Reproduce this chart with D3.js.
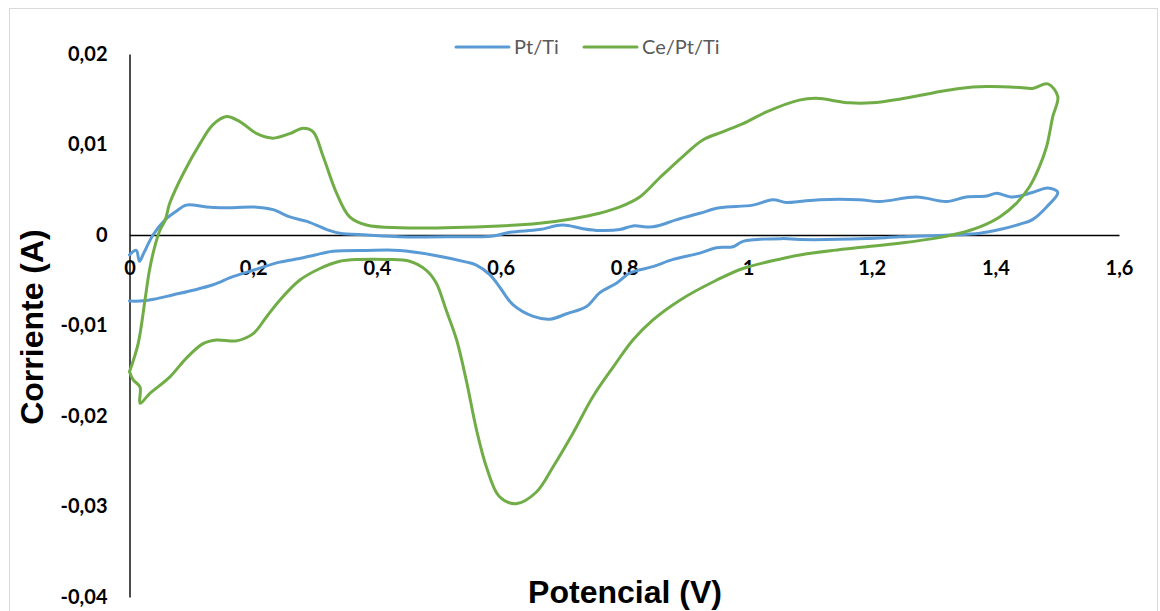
<!DOCTYPE html>
<html>
<head>
<meta charset="utf-8">
<script src="https://cdn.jsdelivr.net/npm/d3@7"></script>
<style>
  body { margin: 0; background: #fff; }
  svg { display: block; }
</style>
</head>
<body>
<div id="chart"></div>
<script>
// ---------------------------------------------------------------------
// Data: [potential (V), current (A)]
// ---------------------------------------------------------------------
const seriesNames = ["Pt/Ti", "Ce/Pt/Ti"];
const seriesColors = ["#5B9BD5", "#70AD47"];

const ptTi = [
  [0.000,-0.0022],[0.011,-0.0017],[0.016,-0.0029],[0.023,-0.0020],[0.038,0.0000],[0.058,0.0017],
  [0.075,0.0026],[0.092,0.0033],[0.125,0.0031],[0.167,0.0030],[0.200,0.0031],[0.232,0.0028],
  [0.259,0.0020],[0.287,0.0015],[0.319,0.0006],[0.340,0.0002],[0.384,0.0000],[0.437,-0.0002],
  [0.518,-0.0002],[0.588,-0.0001],[0.615,0.0003],[0.663,0.0006],[0.700,0.0011],[0.733,0.0007],
  [0.760,0.0005],[0.793,0.0006],[0.814,0.0010],[0.846,0.0009],[0.885,0.0017],[0.922,0.0024],
  [0.954,0.0030],[1.008,0.0033],[1.040,0.0039],[1.062,0.0036],[1.083,0.0037],[1.116,0.0039],
  [1.180,0.0039],[1.213,0.0037],[1.273,0.0042],[1.321,0.0037],[1.353,0.0042],[1.386,0.0043],
  [1.402,0.0046],[1.428,0.0042],[1.460,0.0047],[1.485,0.0052],[1.501,0.0047],
  [1.483,0.0031],[1.460,0.0017],[1.440,0.0012],[1.407,0.0006],[1.375,0.0002],[1.326,0.0000],
  [1.245,-0.0002],[1.192,-0.0004],[1.084,-0.0005],[1.056,-0.0004],[0.992,-0.0007],[0.976,-0.0013],
  [0.949,-0.0014],[0.922,-0.0020],[0.879,-0.0027],[0.846,-0.0035],[0.809,-0.0042],[0.788,-0.0053],
  [0.760,-0.0064],[0.739,-0.0079],[0.707,-0.0087],[0.680,-0.0093],[0.653,-0.0090],[0.620,-0.0077],
  [0.599,-0.0058],[0.583,-0.0044],[0.560,-0.0033],[0.545,-0.0030],[0.490,-0.0022],[0.437,-0.0017],
  [0.383,-0.0017],[0.329,-0.0018],[0.300,-0.0022],[0.275,-0.0026],[0.243,-0.0030],[0.200,-0.0039],
  [0.167,-0.0046],[0.135,-0.0055],[0.103,-0.0061],[0.071,-0.0066],[0.039,-0.0071],[0.017,-0.0073],
  [0.000,-0.0073]
];

const cePtTi = [
  [0.000,-0.0151],[0.014,-0.0120],[0.025,-0.0072],[0.032,-0.0040],[0.040,-0.0015],[0.049,0.0005],
  [0.058,0.0017],[0.065,0.0035],[0.087,0.0068],[0.114,0.0101],[0.135,0.0122],[0.157,0.0131],
  [0.179,0.0125],[0.206,0.0112],[0.232,0.0107],[0.259,0.0112],[0.281,0.0118],[0.297,0.0114],
  [0.313,0.0087],[0.335,0.0046],[0.356,0.0020],[0.383,0.0011],[0.437,0.0008],[0.598,0.0010],
  [0.663,0.0013],[0.717,0.0018],[0.760,0.0024],[0.793,0.0031],[0.825,0.0042],[0.857,0.0063],
  [0.895,0.0087],[0.927,0.0105],[0.959,0.0114],[0.992,0.0123],[1.030,0.0136],[1.083,0.0149],
  [1.110,0.0151],[1.164,0.0146],[1.200,0.0146],[1.245,0.0150],[1.299,0.0157],[1.342,0.0162],
  [1.386,0.0164],[1.440,0.0163],[1.460,0.0162],[1.485,0.0167],[1.501,0.0153],
  [1.493,0.0131],[1.483,0.0098],[1.471,0.0075],[1.455,0.0053],[1.434,0.0035],[1.407,0.0020],
  [1.375,0.0009],[1.342,0.0002],[1.299,-0.0004],[1.245,-0.0009],[1.192,-0.0013],[1.138,-0.0017],
  [1.084,-0.0022],[1.056,-0.0026],[0.992,-0.0037],[0.949,-0.0050],[0.890,-0.0072],[0.846,-0.0094],
  [0.814,-0.0116],[0.782,-0.0146],[0.749,-0.0179],[0.717,-0.0219],[0.685,-0.0256],[0.658,-0.0284],
  [0.625,-0.0297],[0.598,-0.0289],[0.577,-0.0256],[0.561,-0.0215],[0.545,-0.0162],[0.529,-0.0116],
  [0.512,-0.0083],[0.496,-0.0053],[0.480,-0.0039],[0.453,-0.0029],[0.416,-0.0027],[0.372,-0.0027],
  [0.340,-0.0029],[0.308,-0.0037],[0.275,-0.0050],[0.243,-0.0072],[0.222,-0.0090],[0.200,-0.0109],
  [0.173,-0.0117],[0.141,-0.0116],[0.119,-0.0120],[0.092,-0.0136],[0.065,-0.0157],[0.033,-0.0175],
  [0.017,-0.0186],[0.017,-0.0168],[0.006,-0.0160],[0.000,-0.0151]
];

const xTicks = [0, 0.2, 0.4, 0.6, 0.8, 1, 1.2, 1.4, 1.6];
const yTicks = [0.02, 0.01, 0, -0.01, -0.02, -0.03, -0.04];

// ---------------------------------------------------------------------
// Canvas
// ---------------------------------------------------------------------
const W = 1160, H = 611;
const svg = d3.select("#chart").append("svg")
    .attr("width", W)
    .attr("height", H);

svg.append("rect")
    .attr("x", 9.5).attr("y", 8.5)
    .attr("width", 1148).attr("height", 620)
    .attr("fill", "#fff")
    .attr("stroke", "#d9d9d9")
    .attr("stroke-width", 1);

const x = d3.scaleLinear().domain([0, 1.6]).range([129.5, 1119]);
const y = d3.scaleLinear().domain([-0.04, 0.02]).range([597, 54]);

// comma decimal separator, plain hyphen minus
const fmt = d => String(+d.toFixed(2)).replace(".", ",");

// ---------------------------------------------------------------------
// Axes (x axis crosses at y = 0)
// ---------------------------------------------------------------------
const xAxis = svg.append("g")
    .attr("transform", `translate(0,${y(0)})`)
    .call(d3.axisBottom(x).tickValues(xTicks).tickFormat(fmt).tickSize(0).tickSizeOuter(0).tickPadding(26));

const yAxis = svg.append("g")
    .attr("transform", `translate(${x(0)},0)`)
    .call(d3.axisLeft(y).tickValues(yTicks).tickFormat(fmt).tickSize(0).tickSizeOuter(0).tickPadding(22));

[xAxis, yAxis].forEach(g => {
    g.select(".domain").attr("stroke", "#000").attr("stroke-width", 1.4);
    g.selectAll("text")
        .attr("fill", "#000")
        .style("font-family", "Lato, 'Open Sans', sans-serif")
        .style("font-weight", "bold")
        .style("font-size", "20px");
});

// ---------------------------------------------------------------------
// Curves
// ---------------------------------------------------------------------
const line = d3.line()
    .x(d => x(d[0]))
    .y(d => y(d[1]))
    .curve(d3.curveCatmullRom.alpha(0.5));

[ptTi, cePtTi].forEach((data, i) => {
    svg.append("path")
        .datum(data)
        .attr("d", line)
        .attr("fill", "none")
        .attr("stroke", seriesColors[i])
        .attr("stroke-width", 3)
        .attr("stroke-linejoin", "round")
        .attr("stroke-linecap", "round");
});

// ---------------------------------------------------------------------
// Axis titles
// ---------------------------------------------------------------------
svg.append("text")
    .attr("x", 625).attr("y", 603)
    .attr("text-anchor", "middle")
    .style("font-family", "'Liberation Sans', Arial, sans-serif")
    .style("font-weight", "bold")
    .style("font-size", "32px")
    .text("Potencial (V)");

svg.append("text")
    .attr("transform", "translate(43,327) rotate(-90)")
    .attr("text-anchor", "middle")
    .style("font-family", "'Liberation Sans', Arial, sans-serif")
    .style("font-weight", "bold")
    .style("font-size", "32px")
    .text("Corriente (A)");

// ---------------------------------------------------------------------
// Legend
// ---------------------------------------------------------------------
const legendX = [456, 584];
const legend = svg.append("g");
seriesNames.forEach((name, i) => {
    legend.append("line")
        .attr("x1", legendX[i]).attr("x2", legendX[i] + 53)
        .attr("y1", 47).attr("y2", 47)
        .attr("stroke", seriesColors[i])
        .attr("stroke-width", 3)
        .attr("stroke-linecap", "round");
    legend.append("text")
        .attr("x", legendX[i] + 58).attr("y", 54)
        .attr("fill", "#595959")
        .style("font-family", "Lato, 'Open Sans', sans-serif")
        .style("font-size", "20px")
        .text(name);
});
</script>
</body>
</html>
